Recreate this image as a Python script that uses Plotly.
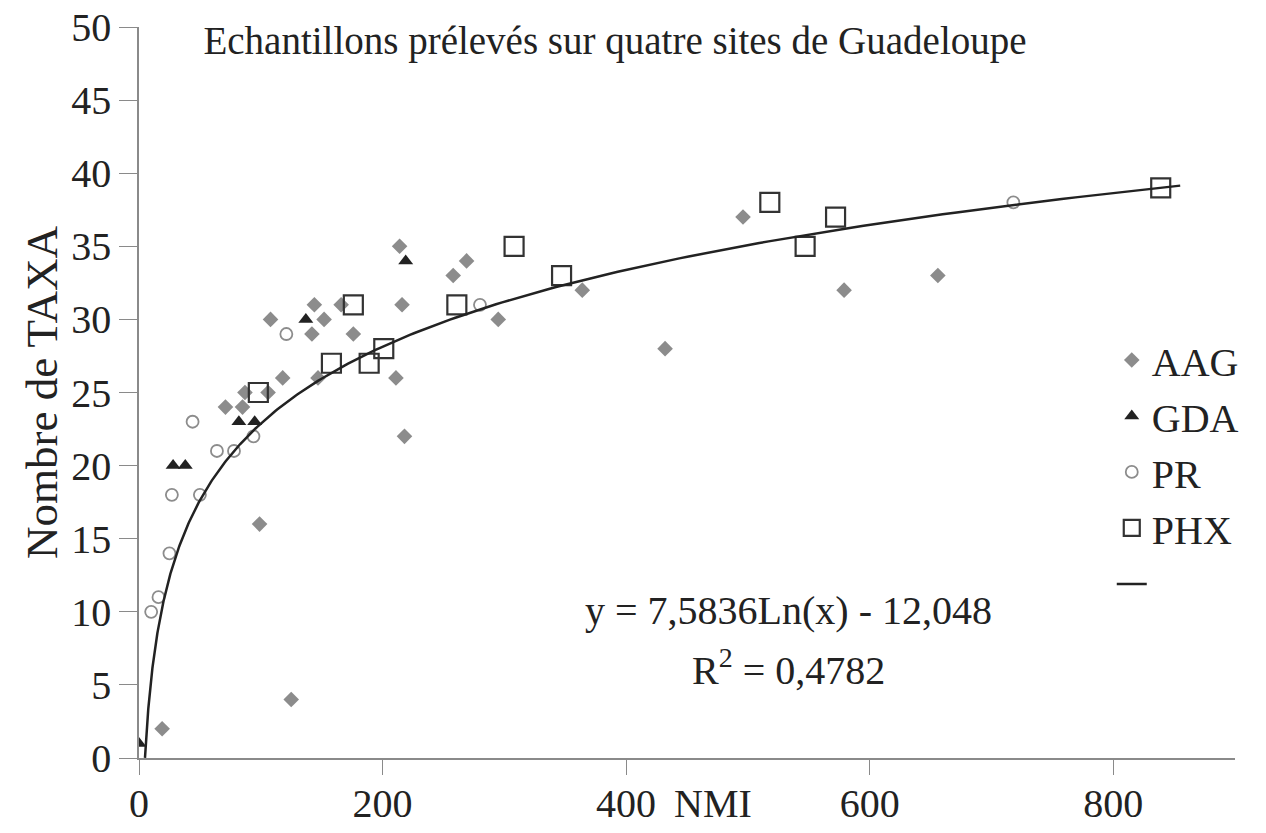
import numpy as np
import plotly.graph_objects as go

# valeurs (NMI, nombre de taxa)
aag_x = [19, 71, 85, 87, 99, 106, 108, 118, 125, 142, 144, 147, 152, 166, 176,
         211, 214, 216, 218, 258, 269, 295, 364, 432, 496, 579, 656]
aag_y = [2, 24, 24, 25, 16, 25, 30, 26, 4, 29, 31, 26, 30, 31, 29,
         26, 35, 31, 22, 33, 34, 30, 32, 28, 37, 32, 33]

gda_x = [0, 28, 38, 82, 95, 137, 219]
gda_y = [1, 20, 20, 23, 23, 30, 34]

pr_x = [10, 16, 25, 27, 44, 50, 64, 78, 94, 121, 280, 718]
pr_y = [10, 11, 14, 18, 23, 18, 21, 21, 22, 29, 31, 38]

phx_x = [98, 158, 176, 189, 201, 261, 308, 347, 518, 547, 572, 839]
phx_y = [25, 27, 31, 27, 28, 31, 35, 33, 38, 35, 37, 39]

# courbe de tendance logarithmique affichée sur le graphique
fit_a = 7.5836
fit_b = -12.048
fit_r2 = 0.4782
fit_xmin, fit_xmax = 4.9, 855

fit_x = np.geomspace(fit_xmin, fit_xmax, 300)
fit_y = fit_a * np.log(fit_x) + fit_b

SERIF = "Liberation Serif, Times New Roman, serif"
AXIS_COL = "#8a8a8a"

fig = go.Figure()

fig.add_trace(go.Scatter(
    x=aag_x, y=aag_y, mode="markers", name="AAG", legendgroup="a",
    marker=dict(symbol="diamond", size=12, color="#8c8c8c")
))
fig.add_trace(go.Scatter(
    x=gda_x, y=gda_y, mode="markers", name="GDA", legendgroup="b",
    marker=dict(symbol="triangle-up", size=13, color="#222222")
))
fig.add_trace(go.Scatter(
    x=pr_x, y=pr_y, mode="markers", name="PR", legendgroup="c",
    marker=dict(symbol="circle-open", size=12, color="#8c8c8c", line=dict(width=1.8))
))
fig.add_trace(go.Scatter(
    x=phx_x, y=phx_y, mode="markers", name="PHX", legendgroup="d",
    marker=dict(symbol="square-open", size=19, color="#333333", line=dict(width=2.2))
))
fig.add_trace(go.Scatter(
    x=fit_x, y=fit_y, mode="lines", name=" ", legendgroup="e",
    line=dict(color="#222222", width=2.5), hoverinfo="skip"
))

fig.add_annotation(
    x=533, y=10.1, xref="x", yref="y",
    text="y = 7,5836Ln(x) - 12,048", showarrow=False,
    font=dict(family=SERIF, size=40, color="#222")
)
fig.add_annotation(
    x=533, y=6.2, xref="x", yref="y",
    text="R<sup>2</sup> = " + f"{fit_r2}".replace(".", ","), showarrow=False,
    font=dict(family=SERIF, size=40, color="#222")
)
fig.add_annotation(
    x=471, y=-0.062, xref="x", yref="paper", yanchor="middle",
    text="NMI", showarrow=False,
    font=dict(family=SERIF, size=40, color="#222")
)

# la page html ajoute une marge de 8 px autour de la figure
fig.update_layout(
    width=1250, height=817,
    margin=dict(l=131, r=23, t=19, b=67),
    plot_bgcolor="white", paper_bgcolor="white",
    font=dict(family=SERIF, color="#222"),
    title=dict(
        text="Echantillons prélevés sur quatre sites de Guadeloupe",
        x=0.4856, xanchor="center", y=0.961, yanchor="middle",
        font=dict(family=SERIF, size=39, color="#222")
    ),
    legend=dict(
        x=1.008, y=0.589, xanchor="right", yanchor="top",
        font=dict(family=SERIF, size=40, color="#222"),
        bgcolor="rgba(0,0,0,0)", traceorder="grouped", tracegroupgap=1,
        itemwidth=30
    ),
    xaxis=dict(
        range=[0, 900], tickvals=[0, 200, 400, 600, 800],
        showgrid=False, zeroline=False, showline=True, automargin=False,
        linecolor=AXIS_COL, linewidth=1.5,
        ticks="outside", ticklen=15, tickcolor=AXIS_COL,
        ticklabeloverflow="allow", ticklabelstandoff=-6,
        tickfont=dict(family=SERIF, size=40, color="#222")
    ),
    yaxis=dict(
        range=[0, 50], dtick=5,
        showgrid=False, zeroline=False, showline=True, automargin=False,
        linecolor=AXIS_COL, linewidth=1.5,
        ticks="outside", ticklen=18, tickcolor=AXIS_COL,
        ticklabeloverflow="allow",
        tickfont=dict(family=SERIF, size=40, color="#222"),
        title=dict(text="Nombre de TAXA", standoff=0,
                   font=dict(family=SERIF, size=45, color="#222"))
    ),
    showlegend=True
)

fig.write_html("out.html")
